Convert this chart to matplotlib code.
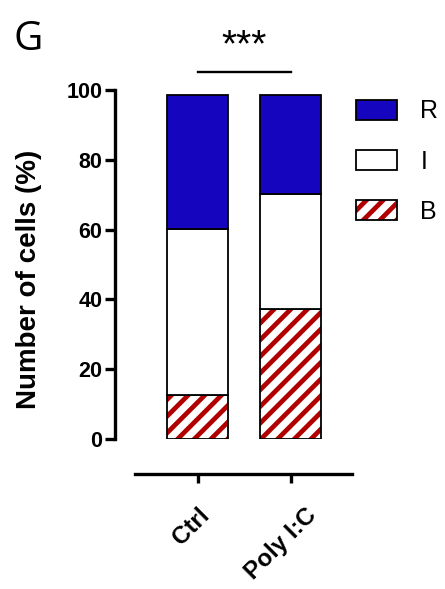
import matplotlib
matplotlib.use("Agg")
import matplotlib.pyplot as plt
from matplotlib.patches import Patch
from matplotlib.transforms import ScaledTranslation

# values (percent of cells)
groups = ["Ctrl", "Poly I:C"]
b_vals = [12.5, 37.3]
i_vals = [47.8, 32.9]
r_vals = [38.3, 28.4]

legend_labels = ["R", "I", "B"]
blue = "#1505BF"
red = "#B00000"

plt.rcParams["font.family"] = ["Liberation Sans", "DejaVu Sans"]
plt.rcParams["hatch.linewidth"] = 3.4

fig = plt.figure(figsize=(4.45, 5.89), dpi=100)
ax = fig.add_axes([115 / 445, 150 / 589, 241 / 445, 349 / 589])

x = list(range(len(groups)))
w = 61 / 93

# B: hatched red stripes, then black outline on top
ax.bar(x, b_vals, width=w, color="white", edgecolor=red, hatch="//", linewidth=0)
ax.bar(x, b_vals, width=w, color="none", edgecolor="black", linewidth=1.3)
bottom_i = b_vals
ax.bar(x, i_vals, width=w, bottom=bottom_i, color="white", edgecolor="black", linewidth=1.3)
bottom_r = [b + i for b, i in zip(b_vals, i_vals)]
ax.bar(x, r_vals, width=w, bottom=bottom_r, color=blue, edgecolor="black", linewidth=1.3)

ax.set_xlim(-0.89, 1.7)
ax.set_ylim(0, 100)
ax.set_yticks([0, 20, 40, 60, 80, 100])

for s in ["top", "right"]:
    ax.spines[s].set_visible(False)
ax.spines["left"].set_linewidth(2.4)
ax.spines["bottom"].set_linewidth(2.4)
ax.spines["bottom"].set_position(("outward", 25))
ax.spines["bottom"].set_bounds(-0.68, 1.66)

ax.tick_params(axis="y", length=7, width=2.4, pad=2, labelsize=15.5)
ax.tick_params(axis="x", length=6.5, width=2.4, pad=15, labelsize=17.5)
for lab in ax.get_yticklabels():
    lab.set_fontweight("bold")

ax.set_xticks(x)
ax.set_xticklabels(groups, rotation=45, ha="right", va="top",
                   rotation_mode="anchor", fontweight="bold")
# the second label sits further right in the reference
for lab, dx in zip(ax.get_xticklabels(), [0, 14]):
    lab.set_transform(lab.get_transform() + ScaledTranslation(dx / 100, 0, fig.dpi_scale_trans))

ax.set_ylabel("Number of cells (%)", fontsize=20, fontweight="bold")
ax.yaxis.set_label_coords(-0.303, 0.456)

# significance bar
ax.plot([0, 1], [105.2, 105.2], color="black", linewidth=1.7, clip_on=False)
ax.text(0.5, 107.5, "***", ha="center", va="bottom", fontsize=28, clip_on=False)

# legend
outline = Patch(facecolor="none", edgecolor="black", linewidth=1.3)
handles = [
    Patch(facecolor=blue, edgecolor="black", linewidth=1.3),
    Patch(facecolor="white", edgecolor="black", linewidth=1.3),
    (Patch(facecolor="white", edgecolor=red, hatch="//", linewidth=0), outline),
]
leg = fig.legend(handles, legend_labels, loc="upper left",
                 bbox_to_anchor=(333 / 445, 1 - 77 / 589), frameon=False,
                 fontsize=18, handlelength=1.65, handleheight=0.85,
                 labelspacing=1.05, handletextpad=0.95)

fig.text(14 / 445, 1 - 50 / 589, "G", fontsize=29, family="Open Sans", va="baseline")

fig.savefig("out.png", dpi=100)
